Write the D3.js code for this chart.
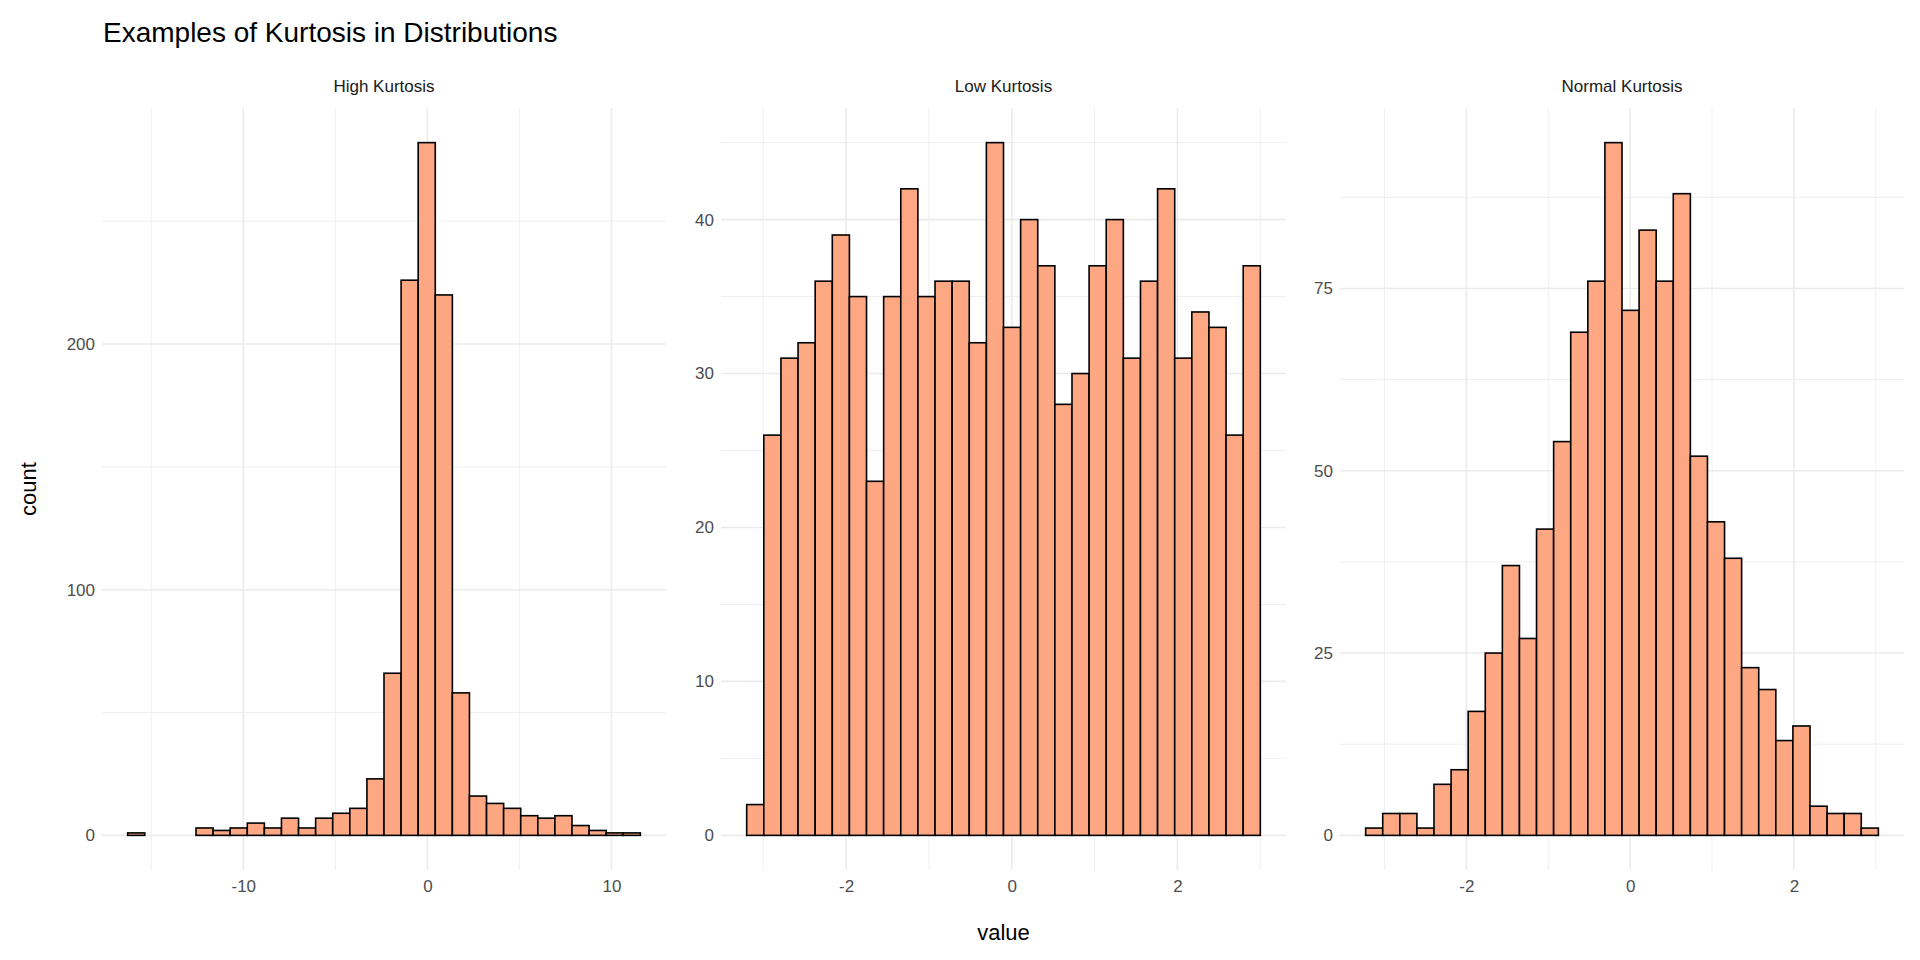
<!DOCTYPE html>
<html>
<head>
<meta charset="utf-8">
<script src="https://cdn.jsdelivr.net/npm/d3@7"></script>
<style>
  body { margin: 0; background: #fff; }
  text { font-family: "Liberation Sans", Arial, sans-serif; }
</style>
</head>
<body>
<svg id="chart" width="1920" height="960"></svg>
<script>
// panel titles
let panelNames = ["High Kurtosis", "Low Kurtosis", "Normal Kurtosis"];

// histogram counts (30 bins each)
let highCounts = [1, 0, 0, 0, 3, 2, 3, 5, 3, 7, 3, 7, 9, 11, 23, 66, 226, 282, 220, 58, 16, 13, 11, 8, 7, 8, 4, 2, 1, 1];
let lowCounts = [2, 26, 31, 32, 36, 39, 35, 23, 35, 42, 35, 36, 36, 32, 45, 33, 40, 37, 28, 30, 37, 40, 31, 36, 42, 31, 34, 33, 26, 37];
let normalCounts = [1, 3, 3, 1, 7, 9, 17, 25, 37, 27, 42, 54, 69, 76, 95, 72, 83, 76, 88, 52, 43, 38, 23, 20, 13, 15, 4, 3, 3, 1];

// first bin edge and bin width per panel
let binStarts = [-16.28, -3.2, -3.23];
let binWidths = [0.9283, 0.2067, 0.2087];

// tick values
let xTicks = [[-10, 0, 10], [-2, 0, 2], [-2, 0, 2]];
let xMinor = [[-15, -5, 5], [-3, -1, 1, 3], [-3, -1, 1, 3]];
let yTicks = [[0, 100, 200], [0, 10, 20, 30, 40], [0, 25, 50, 75]];
let yMinor = [[50, 150, 250], [5, 15, 25, 35, 45], [12.5, 37.5, 62.5, 87.5]];

let allCounts = [highCounts, lowCounts, normalCounts];

let svg = d3.select("#chart");
let fillColor = "#fda783";
let gridColor = "#ebebeb";
let tickColor = "#4d4d4d";

let panelX = [[102, 666], [721, 1286], [1340, 1904]];
let plotTop = 108;
let plotBottom = 870;

svg.append("text")
  .attr("x", 103).attr("y", 42)
  .text("Examples of Kurtosis in Distributions")
  .style("font-size", "28px")
  .attr("fill", "#000");

svg.append("text")
  .attr("transform", "translate(36," + (plotTop + plotBottom) / 2 + ") rotate(-90)")
  .attr("text-anchor", "middle")
  .text("count")
  .style("font-size", "22px");

svg.append("text")
  .attr("x", (panelX[1][0] + panelX[1][1]) / 2).attr("y", 940)
  .attr("text-anchor", "middle")
  .text("value")
  .style("font-size", "22px");

allCounts.forEach(function(counts, p) {
  let bins = counts.map(function(c, i) {
    return { x0: binStarts[p] + i * binWidths[p], x1: binStarts[p] + (i + 1) * binWidths[p], count: c };
  });
  let lo = bins[0].x0, hi = bins[bins.length - 1].x1;
  let pad = (hi - lo) * 0.05;
  let maxC = d3.max(counts);

  let x = d3.scaleLinear().domain([lo - pad, hi + pad]).range(panelX[p]);
  let y = d3.scaleLinear().domain([-maxC * 0.05, maxC * 1.05]).range([plotBottom, plotTop]);

  let g = svg.append("g");

  // strip title
  g.append("text")
    .attr("x", (panelX[p][0] + panelX[p][1]) / 2).attr("y", 92)
    .attr("text-anchor", "middle")
    .text(panelNames[p])
    .style("font-size", "17px")
    .attr("fill", "#1a1a1a");

  // grid
  g.selectAll(".vminor").data(xMinor[p]).enter().append("line")
    .attr("x1", d => x(d)).attr("x2", d => x(d))
    .attr("y1", plotTop).attr("y2", plotBottom)
    .attr("stroke", gridColor).attr("stroke-width", 0.8);
  g.selectAll(".hminor").data(yMinor[p]).enter().append("line")
    .attr("x1", panelX[p][0]).attr("x2", panelX[p][1])
    .attr("y1", d => y(d)).attr("y2", d => y(d))
    .attr("stroke", gridColor).attr("stroke-width", 0.8);
  g.selectAll(".vmajor").data(xTicks[p]).enter().append("line")
    .attr("x1", d => x(d)).attr("x2", d => x(d))
    .attr("y1", plotTop).attr("y2", plotBottom)
    .attr("stroke", gridColor).attr("stroke-width", 1.6);
  g.selectAll(".hmajor").data(yTicks[p]).enter().append("line")
    .attr("x1", panelX[p][0]).attr("x2", panelX[p][1])
    .attr("y1", d => y(d)).attr("y2", d => y(d))
    .attr("stroke", gridColor).attr("stroke-width", 1.6);

  // bars
  g.selectAll(".bar").data(bins).enter().append("rect")
    .attr("x", d => x(d.x0))
    .attr("width", d => x(d.x1) - x(d.x0))
    .attr("y", d => y(d.count))
    .attr("height", d => y(0) - y(d.count))
    .attr("fill", fillColor)
    .attr("stroke", "#000")
    .attr("stroke-width", 1.6);

  // axes
  let xa = g.append("g")
    .attr("transform", "translate(0," + plotBottom + ")")
    .call(d3.axisBottom(x).tickValues(xTicks[p]).tickSize(0).tickPadding(10).tickFormat(d => d < 0 ? "-" + Math.abs(d) : d));
  let ya = g.append("g")
    .attr("transform", "translate(" + panelX[p][0] + ",0)")
    .call(d3.axisLeft(y).tickValues(yTicks[p]).tickSize(0).tickPadding(7));
  [xa, ya].forEach(function(a) {
    a.select(".domain").remove();
    a.selectAll("text").style("font-size", "17px").attr("fill", tickColor);
  });
});
</script>
</body>
</html>
